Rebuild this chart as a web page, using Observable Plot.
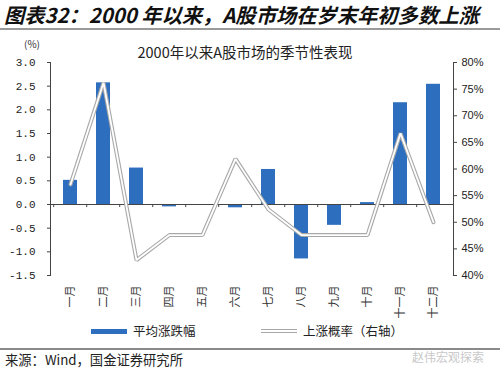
<!DOCTYPE html>
<html>
<head>
<meta charset="utf-8">
<script src="https://cdn.jsdelivr.net/npm/d3@7"></script>
<script src="https://cdn.jsdelivr.net/npm/@observablehq/plot@0.6"></script>
<style>
  html, body { margin: 0; padding: 0; background: #fff; }
  #wrap { position: relative; width: 500px; height: 372px; overflow: hidden; font-family: "Noto Sans CJK SC", sans-serif; }
  #chart { position: absolute; left: 0; top: 0; }
  .abs { position: absolute; white-space: nowrap; line-height: 1; }
</style>
</head>
<body>
<div id="wrap">
  <div id="chart"></div>
  <div class="abs" style="left:4px; top:4px; font-size:20.3px; font-weight:bold; font-style:italic; color:#111;">图表32：2000 年以来，A股市场在岁末年初多数上涨</div>
  <div class="abs" style="left:0; top:28px; width:500px; height:1.5px; background:#9a9a9a;"></div>
  <div class="abs" style="left:24px; top:39px; font-size:10px; color:#333;">(%)</div>
  <div class="abs" style="left:0; width:490px; top:45px; text-align:center; font-size:14.5px; color:#222;">2000年以来A股市场的季节性表现</div>
  <div id="legend"></div>
  <div class="abs" style="left:0; top:348px; width:500px; height:1.5px; background:#8a8a8a;"></div>
  <div class="abs" style="left:5px; top:353px; font-size:13.3px; color:#222;">来源：Wind，国金证券研究所</div>
  <div class="abs" style="left:412px; top:351px; font-size:12px; color:#c8c8c8;">赵伟宏观探索</div>
</div>
<script>
const months = ["一月","二月","三月","四月","五月","六月","七月","八月","九月","十月","十一月","十二月"];
const avgChange = [0.51, 2.57, 0.77, -0.05, -0.02, -0.07, 0.74, -1.15, -0.44, 0.04, 2.15, 2.54];
const upProb = [57.1, 76.2, 42.9, 47.6, 47.6, 61.9, 52.4, 47.6, 47.6, 47.6, 66.7, 50.0];
const leftTicks = [-1.5, -1.0, -0.5, 0.0, 0.5, 1.0, 1.5, 2.0, 2.5, 3.0];
const rightTicks = [40, 45, 50, 55, 60, 65, 70, 75, 80];
const seriesNames = ["平均涨跌幅", "上涨概率（右轴）"];

const leftDomain = [-1.5, 3.0];
const rightDomain = [40, 80];
const toLeft = p => leftDomain[0] + (p - rightDomain[0]) / (rightDomain[1] - rightDomain[0]) * (leftDomain[1] - leftDomain[0]);
const toRight = v => rightDomain[0] + (v - leftDomain[0]) / (leftDomain[1] - leftDomain[0]) * (rightDomain[1] - rightDomain[0]);

const data = months.map((m, i) => ({month: m, change: avgChange[i], prob: upProb[i], probL: toLeft(upProb[i])}));

const W = 500, H = 372, mL = 50, mR = 47, mT = 62, mB = 97;
const step = (W - mL - mR) / months.length;
const barColor = "#2D6EBF";

const chart = Plot.plot({
  width: W, height: H,
  marginLeft: mL, marginRight: mR, marginTop: mT, marginBottom: mB,
  style: {background: "transparent", overflow: "visible"},
  x: {domain: months, paddingInner: 0.58, paddingOuter: 0.29, label: null},
  y: {domain: leftDomain, label: null},
  marks: [
    Plot.barY(data, {x: "month", y: "change", fill: barColor}),
    Plot.ruleY([0], {stroke: "#444", strokeWidth: 1}),
    Plot.ruleX(months, {x: d => d, dx: -step / 2, y1: 0, y2: -0.065, stroke: "#444"}),
    Plot.frame({anchor: "left", stroke: "#444"}),
    Plot.frame({anchor: "right", stroke: "#444"}),
    Plot.lineY(data, {x: "month", y: "probL", stroke: "#a8a8a8", strokeWidth: 4, strokeLinejoin: "miter"}),
    Plot.lineY(data, {x: "month", y: "probL", stroke: "#ffffff", strokeWidth: 1.8, strokeLinejoin: "miter"}),
    Plot.axisY({anchor: "left", ticks: leftTicks, tickSize: 3, tickPadding: 12, stroke: "#444",
      tickFormat: d => d.toFixed(1), fontSize: 11, fontFamily: "Liberation Mono, DejaVu Sans Mono, monospace", fill: "#222"}),
    Plot.axisY({anchor: "right", ticks: rightTicks.map(toLeft), tickSize: 3, tickPadding: 5, stroke: "#444",
      tickFormat: d => Math.round(toRight(d)) + "%", fontSize: 11, fontFamily: "Liberation Sans, Arial, sans-serif", fill: "#222"}),
    Plot.axisX({anchor: "bottom", tickSize: 0, tickRotate: -90, tickPadding: 10, fontSize: 11,
      fontFamily: "Noto Sans CJK SC, sans-serif", fill: "#333"})
  ]
});
document.getElementById("chart").appendChild(chart);

// legend
const legend = document.getElementById("legend");
legend.innerHTML = `
  <div class="abs" style="left:91px; top:329px; width:36px; height:5px; background:${barColor};"></div>
  <div class="abs" style="left:133px; top:325px; font-size:12.5px; color:#222;">${seriesNames[0]}</div>
  <svg class="abs" style="left:261px; top:327px;" width="36" height="8">
    <line x1="0" x2="36" y1="4" y2="4" stroke="#a8a8a8" stroke-width="4"/>
    <line x1="0" x2="36" y1="4" y2="4" stroke="#fff" stroke-width="1.8"/>
  </svg>
  <div class="abs" style="left:303px; top:325px; font-size:12.5px; color:#222;">${seriesNames[1]}</div>
`;
</script>
</body>
</html>
